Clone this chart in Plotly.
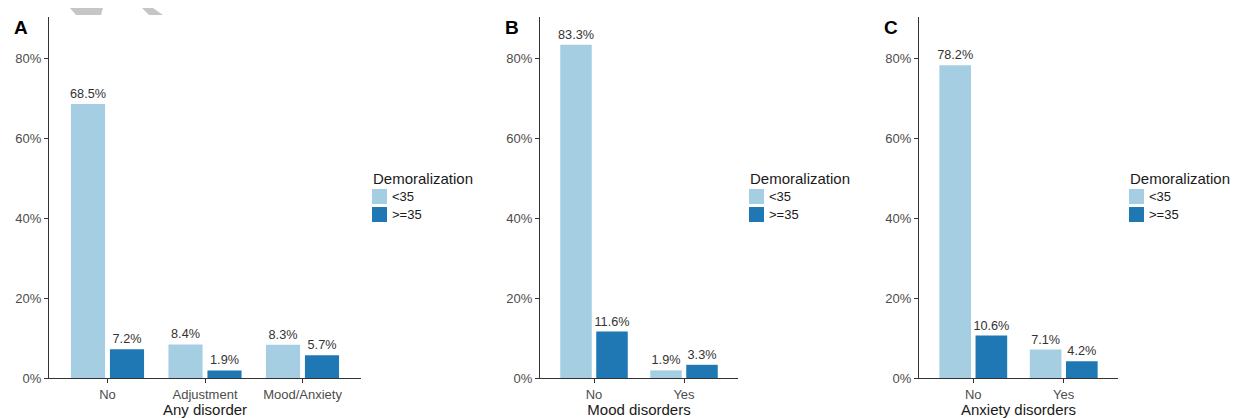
import plotly.graph_objects as go

# Browser body margin of 8px shifts the figure; compensate.
OFF = 8
W, H = 1238 - OFF, 418 - OFF

# ---- data ----
series_names = ["<35", ">=35"]
series_colors = ["#a6cee3", "#1f78b4"]

cats_a = ["No", "Adjustment", "Mood/Anxiety"]
low_a = [68.5, 8.4, 8.3]
high_a = [7.2, 1.9, 5.7]

cats_b = ["No", "Yes"]
low_b = [83.3, 1.9]
high_b = [11.6, 3.3]

cats_c = ["No", "Yes"]
low_c = [78.2, 7.1]
high_c = [10.6, 4.2]

panel_letters = ["A", "B", "C"]
axis_titles = ["Any disorder", "Mood disorders", "Anxiety disorders"]
legend_title = "Demoralization"
y_ticks = [0, 20, 40, 60, 80]

FONT = "Liberation Sans, Arial, sans-serif"


def px(x):
    return (x - OFF) / W


def py(y):
    return 1 - (y - OFF) / H


panels = [
    (cats_a, low_a, high_a, (49, 361)),
    (cats_b, low_b, high_b, (540, 738)),
    (cats_c, low_c, high_c, (919, 1118)),
]
y_top_px, y_bot_px = 17, 378

fig = go.Figure()
layout = dict(
    width=W, height=H,
    margin=dict(l=0, r=0, t=0, b=0),
    paper_bgcolor="white", plot_bgcolor="white",
    font=dict(family=FONT, color="#333333"),
    barmode="group", bargap=0.2, bargroupgap=0.125,
    showlegend=False,
)
annotations = []
shapes = []

for i, (cats, lo, hi, (xl, xr)) in enumerate(panels):
    n = "" if i == 0 else str(i + 1)
    xa, ya = "x" + n, "y" + n
    for vals, name, col in zip([lo, hi], series_names, series_colors):
        fig.add_trace(go.Bar(
            x=cats, y=vals, name=name, marker=dict(color=col, line=dict(width=0)),
            xaxis=xa, yaxis=ya,
            text=[f"{v:.1f}%" for v in vals], textposition="outside",
            constraintext="none",
            textfont=dict(size=12.7, color="#333333", family=FONT),
            cliponaxis=False, showlegend=False,
        ))
    layout["xaxis" + n] = dict(
        domain=[px(xl), px(xr)], anchor=ya,
        range=[-0.6, len(cats) - 0.4],
        showline=True, linecolor="#333333", linewidth=1.2,
        ticks="outside", ticklen=4, tickcolor="#333333", tickwidth=1.2,
        tickfont=dict(size=13, color="#4d4d4d"),
        showgrid=False, zeroline=False,
        title=dict(text=axis_titles[i], font=dict(size=15, color="#1a1a1a"), standoff=2),
        automargin=False,
    )
    layout["yaxis" + n] = dict(
        domain=[py(y_bot_px), py(y_top_px)], anchor=xa,
        range=[0, (y_bot_px - y_top_px) / 4.0],
        showline=True, linecolor="#333333", linewidth=1.2,
        ticks="outside", ticklen=4, tickcolor="#333333", tickwidth=1.2,
        tickvals=y_ticks, ticktext=[f"{t}%" for t in y_ticks],
        tickfont=dict(size=13, color="#4d4d4d"),
        showgrid=False, zeroline=False, automargin=False,
    )
    # panel letter
    annotations.append(dict(
        text=f"<b>{panel_letters[i]}</b>", xref="paper", yref="paper",
        x=px(xl - 37), y=py(27), xanchor="left", yanchor="middle",
        showarrow=False, font=dict(size=19, color="#000000"),
    ))
    # legend (manual)
    lx = xr + 11
    annotations.append(dict(
        text=legend_title, xref="paper", yref="paper",
        x=px(lx - 1), y=py(179), xanchor="left", yanchor="middle",
        showarrow=False, font=dict(size=15, color="#1a1a1a"),
    ))
    for k, (name, col) in enumerate(zip(series_names, series_colors)):
        top = 189 + 18 * k
        shapes.append(dict(
            type="rect", xref="paper", yref="paper",
            x0=px(lx), x1=px(lx + 15), y0=py(top + 15), y1=py(top),
            fillcolor=col, line=dict(width=0),
        ))
        annotations.append(dict(
            text=name, xref="paper", yref="paper",
            x=px(lx + 18), y=py(top + 7.5), xanchor="left", yanchor="middle",
            showarrow=False, font=dict(size=13, color="#1a1a1a"),
        ))

# faint watermark fragment at the top edge
wm = "#c6c6c6"
shapes.append(dict(
    type="path", xref="paper", yref="paper", fillcolor=wm, line=dict(width=0),
    path=f"M {px(70)},{py(8)} L {px(103)},{py(8)} L {px(101)},{py(15)} L {px(76)},{py(15)} Z",
))
shapes.append(dict(
    type="path", xref="paper", yref="paper", fillcolor=wm, line=dict(width=0),
    path=f"M {px(142)},{py(8)} L {px(153)},{py(8)} L {px(163)},{py(15)} L {px(149)},{py(15)} Z",
))

layout["annotations"] = annotations
layout["shapes"] = shapes
fig.update_layout(**layout)
fig.write_html("out.html")
